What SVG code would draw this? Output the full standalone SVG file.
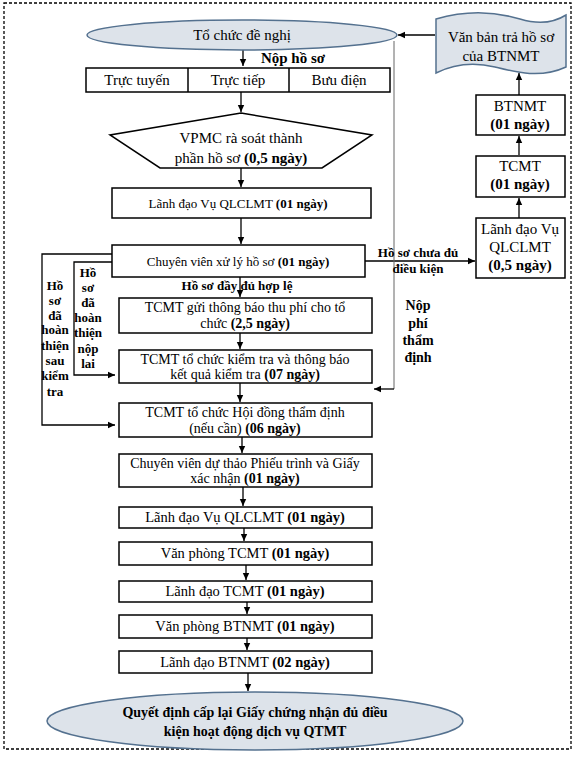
<svg xmlns="http://www.w3.org/2000/svg" width="576" height="757" viewBox="0 0 576 757">
<defs>
<marker id="ah" markerWidth="8" markerHeight="8" refX="7" refY="4" orient="auto" markerUnits="userSpaceOnUse">
<path d="M0,0.8 L7,4 L0,7.2 z" fill="#000"/>
</marker>
<style>
text{font-family:"Liberation Serif","Times New Roman","DejaVu Serif",serif;fill:#000;text-anchor:middle}
.b{font-weight:bold}
.box{fill:#fff;stroke:#000;stroke-width:1.5}
.term{fill:#dde3ea;stroke:#54718f;stroke-width:1.5}
.c{fill:none;stroke:#000;stroke-width:1.3}
.thin{fill:none;stroke:#666;stroke-width:1}
.t15{font-size:15px}
.t14{font-size:14px}
.t13{font-size:14.5px}
.t12{font-size:13px}
.lb{font-size:13px;font-weight:bold}
</style>
</defs>
<rect x="4" y="3" width="567" height="746" fill="#fff" stroke="#000" stroke-width="1.3" stroke-dasharray="3 2"/>

<g id="connectors">
<line class="c" x1="243" y1="50" x2="243" y2="66" marker-end="url(#ah)"/>
<line class="c" x1="241" y1="92" x2="241" y2="112" marker-end="url(#ah)"/>
<line class="c" x1="241" y1="168" x2="241" y2="187" marker-end="url(#ah)"/>
<line class="c" x1="241" y1="218" x2="241" y2="244" marker-end="url(#ah)"/>
<line class="c" x1="240" y1="277" x2="240" y2="297" marker-end="url(#ah)"/>
<line class="c" x1="240" y1="333" x2="240" y2="349" marker-end="url(#ah)"/>
<line class="c" x1="240" y1="383" x2="240" y2="402" marker-end="url(#ah)"/>
<line class="c" x1="242" y1="437" x2="242" y2="453" marker-end="url(#ah)"/>
<line class="c" x1="243" y1="487" x2="243" y2="506" marker-end="url(#ah)"/>
<line class="c" x1="244" y1="528" x2="244" y2="541" marker-end="url(#ah)"/>
<line class="c" x1="246" y1="565" x2="246" y2="580" marker-end="url(#ah)"/>
<line class="c" x1="247" y1="602" x2="247" y2="614" marker-end="url(#ah)"/>
<line class="c" x1="247" y1="638" x2="247" y2="650" marker-end="url(#ah)"/>
<line class="c" x1="248" y1="673" x2="248" y2="691" marker-end="url(#ah)"/>
<line class="c" x1="435" y1="35" x2="398" y2="35" marker-end="url(#ah)"/>
<line class="c" x1="519" y1="95" x2="519" y2="73" marker-end="url(#ah)"/>
<line class="c" x1="519" y1="155" x2="519" y2="136" marker-end="url(#ah)"/>
<line class="c" x1="519" y1="218" x2="519" y2="198" marker-end="url(#ah)"/>
<line class="c" x1="365" y1="261" x2="475" y2="261" marker-end="url(#ah)"/>
<path class="thin" d="M394,41 V389"/>
<path class="c" d="M394,389 H374" marker-end="url(#ah)"/>
<path class="c" d="M112,254 H42 V425 H115" marker-end="url(#ah)"/>
<path class="c" d="M112,262 H74 V375 H115" marker-end="url(#ah)"/>
<text class="b" style="font-size:15px" x="293" y="63">Nộp hồ sơ</text>
<text class="lb" x="237" y="290">Hồ sơ đầy đủ hợp lệ</text>
<text class="lb" x="418" y="257">Hồ sơ chưa đủ</text>
<text class="lb" x="418" y="273">điều kiện</text>
<text class="lb" style="font-size:14px" x="418" y="310">Nộp</text>
<text class="lb" style="font-size:14px" x="418" y="328">phí</text>
<text class="lb" style="font-size:14px" x="418" y="345">thẩm</text>
<text class="lb" style="font-size:14px" x="418" y="362">định</text>
<text class="lb" x="55" y="290">Hồ</text>
<text class="lb" x="55" y="305">sơ</text>
<text class="lb" x="55" y="320">đã</text>
<text class="lb" x="55" y="334">hoàn</text>
<text class="lb" x="55" y="350">thiện</text>
<text class="lb" x="55" y="365">sau</text>
<text class="lb" x="55" y="380">kiểm</text>
<text class="lb" x="55" y="396">tra</text>
<text class="lb" x="88" y="277">Hồ</text>
<text class="lb" x="88" y="292">sơ</text>
<text class="lb" x="88" y="307">đã</text>
<text class="lb" x="88" y="322">hoàn</text>
<text class="lb" x="88" y="337">thiện</text>
<text class="lb" x="88" y="353">nộp</text>
<text class="lb" x="88" y="368">lai</text>
</g>

<g id="n-tochuc">
<ellipse class="term" cx="242" cy="35" rx="155" ry="15"/>
<text class="t15" x="242" y="40">Tổ chức đề nghị</text>
</g>

<g id="n-kenh">
<rect class="box" x="86" y="68" width="304" height="24"/>
<line x1="188" y1="68" x2="188" y2="92" stroke="#000" stroke-width="1.5"/>
<line x1="289" y1="68" x2="289" y2="92" stroke="#000" stroke-width="1.5"/>
<text class="t15" x="137" y="85">Trực tuyến</text>
<text class="t15" x="238" y="85">Trực tiếp</text>
<text class="t15" x="339" y="85">Bưu điện</text>
</g>

<g id="n-vpmc">
<polygon class="box" points="241,113 372,135 322,168 160,168 110,135"/>
<text class="t15" x="241" y="143">VPMC rà soát thành</text>
<text class="t15" x="241" y="163">phần hồ sơ <tspan class="b">(0,5 ngày)</tspan></text>
</g>

<g id="n-ldvu1">
<rect class="box" x="112" y="188" width="259" height="30"/>
<text class="t12" x="238" y="208">Lãnh đạo Vụ QLCLMT <tspan class="b">(01 ngày)</tspan></text>
</g>

<g id="n-cv">
<rect class="box" x="112" y="245" width="253" height="32"/>
<text class="t12" x="238" y="266">Chuyên viên xử lý hồ sơ <tspan class="b">(01 ngày)</tspan></text>
</g>

<g id="n-tbphi">
<rect class="box" x="119" y="298" width="253" height="35"/>
<text class="t14" x="245" y="312">TCMT gửi thông báo thu phí cho tổ</text>
<text class="t14" x="245" y="328">chức <tspan class="b">(2,5 ngày)</tspan></text>
</g>

<g id="n-kiemtra">
<rect class="box" x="119" y="350" width="253" height="33"/>
<text class="t14" x="245" y="364">TCMT tổ chức kiểm tra và thông báo</text>
<text class="t14" x="245" y="379">kết quả kiểm tra <tspan class="b">(07 ngày)</tspan></text>
</g>

<g id="n-hoidong">
<rect class="box" x="119" y="403" width="253" height="34"/>
<text class="t14" x="245" y="417">TCMT tổ chức Hội đồng thẩm định</text>
<text class="t14" x="245" y="433">(nếu cần) <tspan class="b">(06 ngày)</tspan></text>
</g>

<g id="n-duthao">
<rect class="box" x="119" y="454" width="253" height="33"/>
<text class="t14" x="245" y="468">Chuyên viên dự thảo Phiếu trình và Giấy</text>
<text class="t14" x="245" y="483">xác nhận <tspan class="b">(01 ngày)</tspan></text>
</g>

<g id="n-ldvu2">
<rect class="box" x="119" y="507" width="253" height="21"/>
<text class="t13" x="245" y="522">Lãnh đạo Vụ QLCLMT <tspan class="b">(01 ngày)</tspan></text>
</g>

<g id="n-vptcmt">
<rect class="box" x="119" y="542" width="253" height="23"/>
<text class="t13" x="245" y="558">Văn phòng TCMT <tspan class="b">(01 ngày)</tspan></text>
</g>

<g id="n-ldtcmt">
<rect class="box" x="119" y="581" width="253" height="21"/>
<text class="t13" x="245" y="596">Lãnh đạo TCMT <tspan class="b">(01 ngày)</tspan></text>
</g>

<g id="n-vpbtnmt">
<rect class="box" x="119" y="615" width="253" height="23"/>
<text class="t13" x="245" y="631">Văn phòng BTNMT <tspan class="b">(01 ngày)</tspan></text>
</g>

<g id="n-ldbtnmt">
<rect class="box" x="119" y="651" width="253" height="22"/>
<text class="t13" x="245" y="667">Lãnh đạo BTNMT <tspan class="b">(02 ngày)</tspan></text>
</g>

<g id="n-quyetdinh">
<ellipse class="term" cx="255" cy="721" rx="208" ry="29"/>
<text class="t14 b" x="255" y="717">Quyết định cấp lại Giấy chứng nhận đủ điều</text>
<text class="t14 b" x="255" y="736">kiện hoạt động dịch vụ QTMT</text>
</g>

<g id="n-vanban">
<path class="term" d="M436,19 C470,9 500,13 520,19 C540,25 555,22 566,15 L566,67 C540,79 515,72 495,67 C470,61 450,66 436,73 Z"/>
<text class="t15" x="501" y="42">Văn bản trả hồ sơ</text>
<text class="t15" x="501" y="61">của BTNMT</text>
</g>

<g id="n-btnmt">
<rect class="box" x="476" y="95" width="89" height="40"/>
<text class="t15" x="520" y="111">BTNMT</text>
<text class="t15 b" x="520" y="129">(01 ngày)</text>
</g>

<g id="n-tcmt">
<rect class="box" x="476" y="156" width="89" height="41"/>
<text class="t15" x="520" y="171">TCMT</text>
<text class="t15 b" x="520" y="189">(01 ngày)</text>
</g>

<g id="n-ldvu3">
<rect class="box" x="476" y="218" width="89" height="60"/>
<text class="t15" x="520" y="234">Lãnh đạo Vụ</text>
<text class="t15" x="520" y="252">QLCLMT</text>
<text class="t15 b" x="520" y="270">(0,5 ngày)</text>
</g>
</svg>
